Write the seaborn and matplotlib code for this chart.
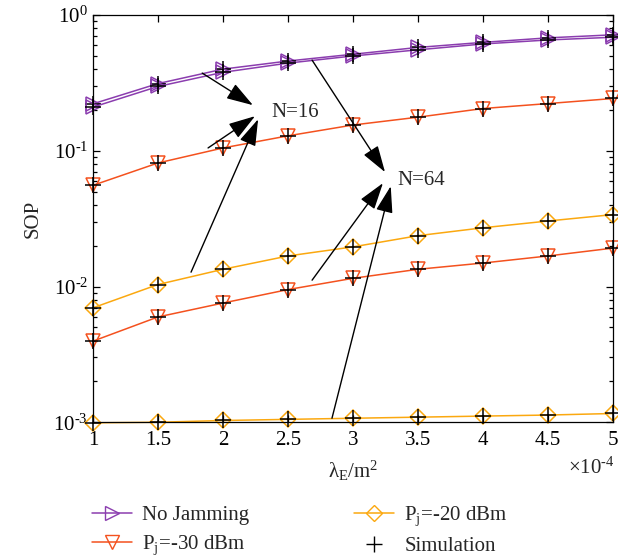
import numpy as np
import pandas as pd
import seaborn as sns
import matplotlib.pyplot as plt
from matplotlib.lines import Line2D
from matplotlib.ticker import LogLocator, FuncFormatter, NullFormatter

# density of eavesdroppers (x 1e-4 per m^2)
lam = [1, 1.5, 2, 2.5, 3, 3.5, 4, 4.5, 5]

# SOP values, N=16 and N=64
nojam_n16 = [0.222, 0.313, 0.400, 0.459, 0.515, 0.578, 0.630, 0.680, 0.716]
nojam_n64 = [0.210, 0.298, 0.379, 0.443, 0.500, 0.555, 0.613, 0.656, 0.687]
pj30_n16 = [0.0557, 0.0814, 0.105, 0.129, 0.155, 0.177, 0.205, 0.223, 0.243]
pj30_n64 = [0.00396, 0.00597, 0.00756, 0.0095, 0.0115, 0.0134, 0.0149, 0.0168, 0.0192]
pj20_n16 = [0.00697, 0.01035, 0.0134, 0.0168, 0.0196, 0.0237, 0.0271, 0.0304, 0.0339]
pj20_n64 = [0.00099, 0.00100, 0.00103, 0.00105, 0.00107, 0.00109, 0.00111, 0.00113, 0.00116]

purple = '#8B3DAF'
red = '#F4511E'
orange = '#FBA80F'
fs = 15

sns.set_theme(style='ticks')
plt.rcParams['font.family'] = ['Liberation Serif', 'DejaVu Serif']
plt.rcParams['mathtext.fontset'] = 'custom'
plt.rcParams['mathtext.rm'] = 'Liberation Serif'
plt.rcParams['mathtext.it'] = 'Liberation Serif:italic'
plt.rcParams['font.size'] = fs

fig = plt.figure(figsize=(6.18, 5.6), dpi=100)
ax = fig.add_axes([0.1505, 0.246, 0.8415, 0.727])

series = [
    (nojam_n16, purple, '>'), (nojam_n64, purple, '>'),
    (pj30_n16, red, 'v'), (pj30_n64, red, 'v'),
    (pj20_n16, orange, 'D'), (pj20_n64, orange, 'D'),
]
for vals, col, mk in series:
    sns.lineplot(x=lam, y=vals, ax=ax, color=col, lw=1.1, marker=mk,
                 markersize=9.5 if mk != 'D' else 7.8, markerfacecolor='none',
                 markeredgecolor=col, markeredgewidth=1.1, clip_on=False)
    sns.lineplot(x=lam, y=vals, ax=ax, color='black', linestyle='', marker='+',
                 markersize=11, markeredgecolor='black', markeredgewidth=1.1,
                 clip_on=False)

ax.set_yscale('log')
ax.set_xlim(1, 5)
ax.set_ylim(1e-3, 1)
ax.set_xticks(lam)
ax.set_xticklabels(['1', '1.5', '2', '2.5', '3', '3.5', '4', '4.5', '5'])
ax.yaxis.set_major_locator(LogLocator(base=10, numticks=10))
ax.yaxis.set_minor_locator(LogLocator(base=10, subs=np.arange(2, 10), numticks=10))
ax.yaxis.set_major_formatter(FuncFormatter(
    lambda v, p: r'$\mathregular{10^{%s}}$' % str(round(np.log10(v))).replace('-', r'\text{-}')))
ax.yaxis.set_minor_formatter(NullFormatter())
ax.tick_params(which='both', direction='in', top=True, right=True, colors='black',
               labelsize=fs, width=0.9)
ax.tick_params(which='major', length=5)
ax.tick_params(which='minor', length=3)
ax.tick_params(axis='x', pad=6)
for s in ax.spines.values():
    s.set_color('black')
    s.set_linewidth(0.9)

ax.set_ylabel('SOP', fontsize=fs, labelpad=8)
ax.set_xlabel(r'$\mathregular{\lambda_E/m^2}$', fontsize=fs)
ax.xaxis.set_label_coords(0.5, -0.09)
ax.text(0.913, -0.113, r'$\mathregular{\times 10^{\text{-}4}}$', transform=ax.transAxes,
        ha='left', va='center', fontsize=fs)

# annotations
arrow = dict(arrowstyle='-|>,head_length=1.1,head_width=0.35', color='black', lw=1,
             shrinkA=0, shrinkB=0)
ax.text(2.37, 0.193, 'N=16', ha='left', va='center', fontsize=fs)
for tail, tip in [((1.84, 0.374), (2.23, 0.217)),
                  ((1.885, 0.105), (2.246, 0.180)),
                  ((1.754, 0.01276), (2.27, 0.171))]:
    ax.annotate('', xy=tip, xytext=tail, arrowprops=arrow)
ax.text(3.34, 0.0608, 'N=64', ha='left', va='center', fontsize=fs)
for tail, tip in [((2.685, 0.466), (3.246, 0.0697)),
                  ((2.685, 0.01114), (3.23, 0.0578)),
                  ((2.838, 0.00107), (3.29, 0.0549))]:
    ax.annotate('', xy=tip, xytext=tail, arrowprops=arrow)

handles = [
    Line2D([], [], color=purple, marker='>', markersize=9.5, markerfacecolor='none', lw=1.1),
    Line2D([], [], color=red, marker='v', markersize=9.5, markerfacecolor='none', lw=1.1),
    Line2D([], [], color=orange, marker='D', markersize=7.8, markerfacecolor='none', lw=1.1),
    Line2D([], [], color='black', marker='+', markersize=11, linestyle=''),
]
labels = ['No Jamming', r'P$_\mathregular{j}$=-30 dBm', r'P$_\mathregular{j}$=-20 dBm', 'Simulation']
fig.legend(handles, labels, loc='upper left', bbox_to_anchor=(0.132, 0.117), ncol=2,
           frameon=False, fontsize=fs, handlelength=1.9, columnspacing=5.05,
           labelspacing=0.4, handletextpad=0.5, borderpad=0)

fig.savefig('out.png', dpi=100)
